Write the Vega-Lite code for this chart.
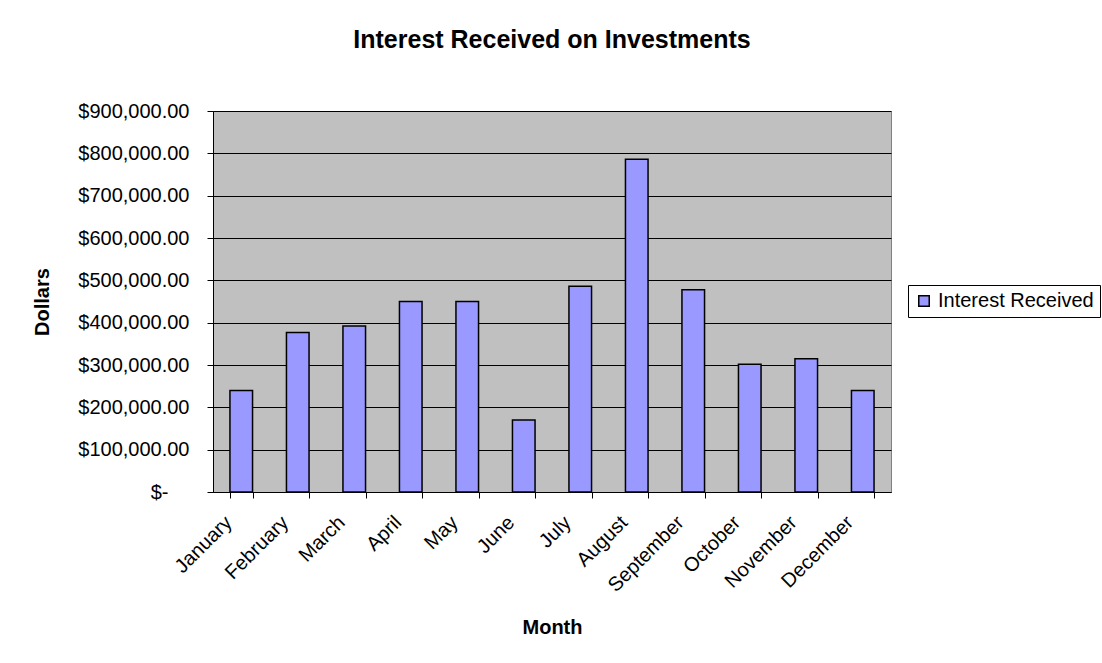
{
  "$schema": "https://vega.github.io/schema/vega-lite/v6.json",
  "description": "Interest received on investments by month",
  "autosize": {"type": "none"},
  "padding": {"left": 213, "top": 111, "right": 211, "bottom": 171},
  "width": 678,
  "height": 381,
  "background": "white",
  "config": {
    "font": "Liberation Sans",
    "view": {"fill": "#C0C0C0", "stroke": "#808080", "strokeWidth": 1}
  },
  "title": {
    "text": "Interest Received on Investments",
    "font": "Liberation Sans",
    "fontSize": 25,
    "fontWeight": "bold",
    "color": "black",
    "anchor": "middle",
    "offset": 48
  },
  "data": {
    "values": [
      {"month": "January", "dollars": 240000, "series": "Interest Received"},
      {"month": "February", "dollars": 377000, "series": "Interest Received"},
      {"month": "March", "dollars": 392000, "series": "Interest Received"},
      {"month": "April", "dollars": 450000, "series": "Interest Received"},
      {"month": "May", "dollars": 450000, "series": "Interest Received"},
      {"month": "June", "dollars": 170000, "series": "Interest Received"},
      {"month": "July", "dollars": 486000, "series": "Interest Received"},
      {"month": "August", "dollars": 786000, "series": "Interest Received"},
      {"month": "September", "dollars": 478000, "series": "Interest Received"},
      {"month": "October", "dollars": 302000, "series": "Interest Received"},
      {"month": "November", "dollars": 315000, "series": "Interest Received"},
      {"month": "December", "dollars": 240000, "series": "Interest Received"}
    ]
  },
  "mark": {"type": "bar", "stroke": "black", "strokeWidth": 1.5},
  "encoding": {
    "x": {
      "field": "month",
      "type": "nominal",
      "sort": null,
      "scale": {"paddingInner": 0.6, "paddingOuter": 0.3},
      "axis": {
        "title": "Month",
        "titleFont": "Liberation Sans",
        "titleFontSize": 20,
        "titleFontWeight": "bold",
        "titleColor": "black",
        "titlePadding": 22,
        "labelFont": "Liberation Sans",
        "labelFontSize": 20,
        "labelColor": "black",
        "labelAngle": -45,
        "labelPadding": 14,
        "labelOffset": -20,
        "tickBand": "extent",
        "tickSize": 6,
        "tickColor": "black",
        "domainColor": "black",
        "grid": false
      }
    },
    "y": {
      "field": "dollars",
      "type": "quantitative",
      "scale": {"domain": [0, 900000], "nice": false},
      "axis": {
        "title": "Dollars",
        "titleFont": "Liberation Sans",
        "titleFontSize": 20,
        "titleFontWeight": "bold",
        "titleColor": "black",
        "titlePadding": 25,
        "values": [0, 100000, 200000, 300000, 400000, 500000, 600000, 700000, 800000, 900000],
        "labelExpr": "datum.value === 0 ? '$-' : '$' + format(datum.value, ',.2f')",
        "labelFont": "Liberation Sans",
        "labelFontSize": 20,
        "labelColor": "black",
        "labelPadding": {"condition": {"test": "datum.value === 0", "value": 39}, "value": 18},
        "tickSize": 6,
        "tickColor": "black",
        "domainColor": "black",
        "grid": true,
        "gridColor": "black",
        "gridWidth": 1
      }
    },
    "color": {
      "field": "series",
      "type": "nominal",
      "scale": {"range": ["#9999FF"]},
      "legend": {
        "title": null,
        "orient": "none",
        "legendX": 695,
        "legendY": 174,
        "symbolType": "square",
        "symbolSize": 110,
        "symbolStrokeColor": "black",
        "symbolStrokeWidth": 1.5,
        "labelFont": "Liberation Sans",
        "labelFontSize": 20,
        "labelColor": "black",
        "strokeColor": "black",
        "padding": 6,
        "fillColor": "white"
      }
    }
  }
}
